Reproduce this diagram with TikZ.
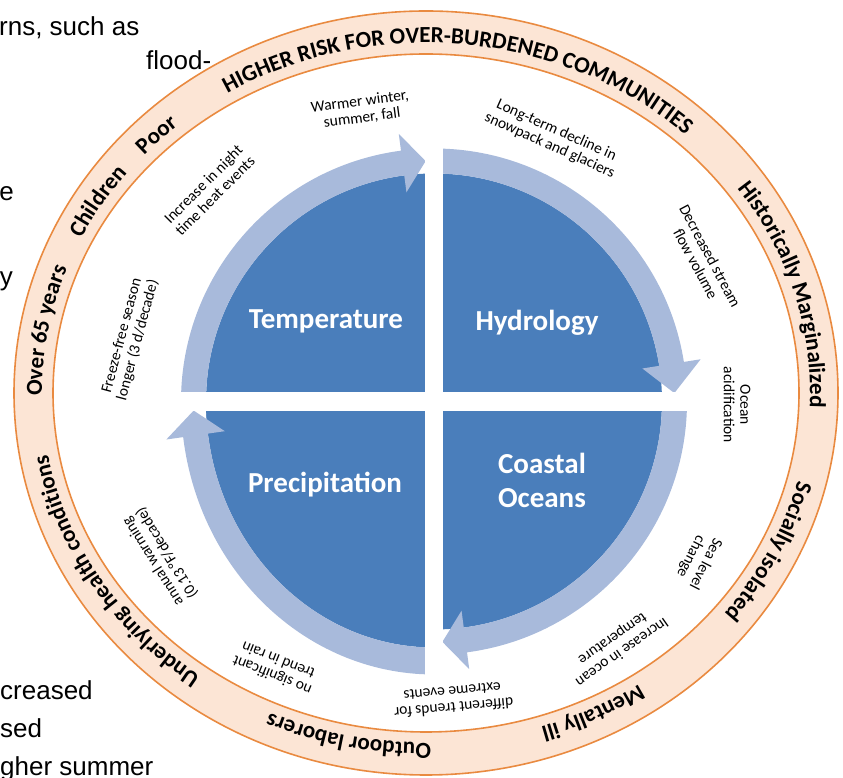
\documentclass[tikz,border=0pt]{standalone}
\usepackage{fontspec}
\setmainfont{Carlito}
\newfontfamily\pagefont{Liberation Sans}
\usetikzlibrary{decorations.text}
\definecolor{darkq}{RGB}{74,126,187}
\definecolor{lightq}{RGB}{168,186,219}
\definecolor{ringfill}{RGB}{252,229,213}
\definecolor{ringline}{RGB}{233,138,64}
\newcommand{\ringfont}{\fontsize{23}{23}\selectfont\bfseries}
\newcommand{\myringlabel}[3]{\path[decorate,decoration={text along path,text align=center,text={|\ringfont|#1}}] (RC) ++(#2:384pt and 350pt) arc[start angle=#2,end angle=#3,x radius=384pt,y radius=350pt];}
\newcommand{\myband}[3]{\fill[lightq] (#1:253pt) arc[start angle=#1,end angle=#2,radius=253pt] -- (#2:270pt) -- (#3:240.5pt) -- (#2:211pt) -- (#2:228pt) arc[start angle=#2,end angle=#1,radius=228pt] -- cycle;}
\begin{document}
\begin{tikzpicture}[x=1pt,y=1pt,
  pagetxt/.style={font=\pagefont\fontsize{26}{26}\selectfont,inner sep=0pt,text=black},
  smalltxt/.style={font=\fontsize{15.5}{16.5}\selectfont,align=center,inner sep=0pt,text=black},
  quadtxt/.style={font=\fontsize{29}{34}\selectfont\bfseries,align=center,inner sep=0pt,text=white}]
\useasboundingbox (0,0) rectangle (843,778);
% page text behind the figure
\node[pagetxt,anchor=base west] (p1) at (-1,742) {rns, such as};
\node[pagetxt,anchor=base west] (p2) at (146,708) {flood-};
\node[pagetxt,anchor=base east] (p3) at (14,577) {e};
\node[pagetxt,anchor=base east] (p4) at (13,492) {y};
\node[pagetxt,anchor=base west] (p5) at (0,78) {creased};
\node[pagetxt,anchor=base west] (p6) at (0,40) {sed};
\node[pagetxt,anchor=base west] (p7) at (0,2) {gher summer};
% ring
\coordinate (RC) at (426,385);
\fill[ringfill,even odd rule] (RC) ellipse[x radius=412pt,y radius=382pt] (RC) ellipse[x radius=373pt,y radius=339pt];
\draw[ringline,line width=1.6pt] (RC) ellipse[x radius=412pt,y radius=382pt];
\draw[ringline,line width=1.6pt] (RC) ellipse[x radius=373pt,y radius=339pt];
\myringlabel{HIGHER RISK FOR OVER-BURDENED COMMUNITIES}{159}{9}
\myringlabel{Poor}{154}{114}
\myringlabel{Children}{178}{118}
\myringlabel{Over 65 years}{200}{140}
\myringlabel{Underlying health conditions}{261}{161}
\myringlabel{Outdoor laborers}{298}{218}
\myringlabel{Mentally ill}{326}{266}
\myringlabel{Socially isolated}{374}{294}
\myringlabel{Historically Marginalized}{66}{-34}
% quadrants
\begin{scope}[shift={(434,376.5)}]
\fill[darkq] (0,0) circle[radius=228pt];
\begin{scope}
\clip (-300,0) rectangle (0,-300);
\fill[darkq] (0,0) ellipse[x radius=228pt,y radius=246pt];
\end{scope}
\myband{181}{97.5}{92}
\myband{91}{9}{2}
\myband{1}{-82.5}{-88}
\begin{scope}[yscale=1.079]
\myband{271}{187.5}{182}
\end{scope}
\fill[white] (-9,-290) rectangle (9,272);
\fill[white] (-272,-9.5) rectangle (272,9.5);
\end{scope}
\node[quadtxt] (temp) at (326,457) {Temperature};
\node[quadtxt] (hydro) at (537,455) {Hydrology};
\node[quadtxt] (precip) at (325,293) {Precipitation};
\node[quadtxt] (coast) at (542,297.5) {Coastal\\Oceans};
% effects
\node[smalltxt,rotate=7.5] (t1) at (361,668) {Warmer winter,\\summer, fall};
\node[smalltxt,rotate=-24] (h1) at (553,640) {Long-term decline in\\snowpack and glaciers};
\node[smalltxt,rotate=45] (t2) at (209,588) {Increase in night\\time heat events};
\node[smalltxt,rotate=75] (t3) at (130,440) {Freeze-free season\\longer (3 d/decade)};
\node[smalltxt,rotate=-62] (h2) at (703,518) {Decreased stream\\flow volume};
\node[smalltxt,rotate=-90] (c1) at (737,373) {Ocean\\acidification};
\node[smalltxt,rotate=-117] (c2) at (698,218) {Sea level\\change};
\node[smalltxt,rotate=-145] (c3) at (617,133) {Increase in ocean\\temperature};
\node[smalltxt,rotate=-175] (c4) at (453,78) {different trends for\\extreme events};
\node[smalltxt,rotate=158] (r1) at (275,110) {no significant\\trend in rain};
\node[smalltxt,rotate=122] (r2) at (160,221) {annual warming\\(0.13 °F/decade)};
\end{tikzpicture}
\end{document}
